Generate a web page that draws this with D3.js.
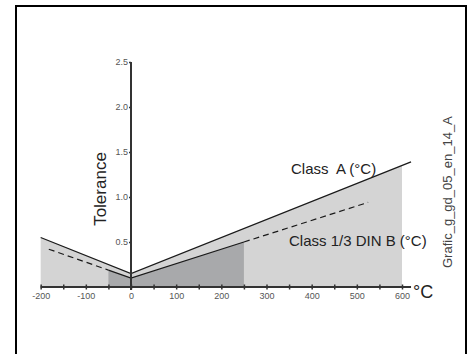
<!DOCTYPE html>
<html>
<head>
<meta charset="utf-8">
<script src="https://cdn.jsdelivr.net/npm/d3@7"></script>
<style>
  html, body { margin: 0; padding: 0; background: #fff; }
  svg { display: block; font-family: "Liberation Sans", Arial, Helvetica, sans-serif; }
</style>
</head>
<body>
<div id="chart"></div>
<script>
// tolerance curves (°C -> tolerance)
var classA = [[-200, 0.55], [0, 0.15], [620, 1.39]];
var classAFill = [[-200, 0], [-200, 0.55], [0, 0.15], [600, 1.35], [600, 0]];
var classBSolid = [[-50, 0.188], [0, 0.1], [250, 0.5]];
var classBDashLeft = [[-182, 0.42], [-50, 0.188]];
var classBDashRight = [[250, 0.5], [525, 0.94]];
var classBFill = [[-50, 0], [-50, 0.188], [0, 0.1], [250, 0.5], [250, 0]];
var xTicks = [-200, -150, -100, -50, 0, 50, 100, 150, 200, 250, 300, 350, 400, 450, 500, 550, 600];
var xLabels = [-200, -100, 0, 100, 200, 300, 400, 500, 600];
var yTicks = [0.5, 1.0, 1.5, 2.0, 2.5];

var W = 467, H = 354;
var svg = d3.select('#chart').append('svg')
  .attr('width', W)
  .attr('height', H);

// escalas
var x = d3.scaleLinear().domain([0, 600]).range([131, 402]);
var y = d3.scaleLinear().domain([0, 2.5]).range([287, 62]);

var line = d3.line().x(function(d) { return x(d[0]); }).y(function(d) { return y(d[1]); });

// areas
svg.append('path').attr('d', line(classAFill) + 'Z').attr('fill', '#d4d4d4');
svg.append('path').attr('d', line(classBFill) + 'Z').attr('fill', '#a8a9ab');

// curves
svg.append('path').attr('d', line(classA))
  .attr('fill', 'none').attr('stroke', '#1a1a1a').attr('stroke-width', 1.3);
svg.append('path').attr('d', line(classBSolid))
  .attr('fill', 'none').attr('stroke', '#1a1a1a').attr('stroke-width', 1.3);
[classBDashLeft, classBDashRight].forEach(function(seg) {
  svg.append('path').attr('d', line(seg))
    .attr('fill', 'none').attr('stroke', '#1a1a1a').attr('stroke-width', 1.2)
    .attr('stroke-dasharray', '6,4');
});

// x axis
var xAxis = d3.axisBottom(x)
  .tickValues(xTicks)
  .tickSize(2)
  .tickPadding(4)
  .tickFormat(function(d) { return xLabels.indexOf(d) >= 0 ? d : ''; });
var xAxisG = svg.append('g')
  .attr('class', 'x-axis')
  .attr('transform', 'translate(0,' + y(0) + ')')
  .call(xAxis);
xAxisG.select('.domain').remove();
xAxisG.selectAll('.tick line')
  .attr('y1', -2.5).attr('y2', 2.5)
  .attr('stroke', '#333').attr('stroke-width', 1.5);
xAxisG.selectAll('.tick text')
  .attr('font-size', 9).attr('fill', '#555')
  .attr('font-family', '"Liberation Sans", Arial, sans-serif');
xAxisG.append('line')
  .attr('x1', x(-200)).attr('x2', x(620))
  .attr('stroke', '#333').attr('stroke-width', 2);

// y axis
var yAxis = d3.axisLeft(y)
  .tickValues(yTicks)
  .tickSize(2)
  .tickPadding(1)
  .tickFormat(d3.format('.1f'));
var yAxisG = svg.append('g')
  .attr('class', 'y-axis')
  .attr('transform', 'translate(' + x(0) + ',0)')
  .call(yAxis);
yAxisG.select('.domain').remove();
yAxisG.selectAll('.tick line').attr('stroke', '#333').attr('stroke-width', 1.5);
yAxisG.selectAll('.tick text')
  .attr('font-size', 9).attr('fill', '#555')
  .attr('font-family', '"Liberation Sans", Arial, sans-serif');
yAxisG.append('line')
  .attr('y1', y(2.5)).attr('y2', y(0) + 3)
  .attr('stroke', '#333').attr('stroke-width', 2);

// textos
svg.append('text')
  .attr('transform', 'translate(106,189) rotate(-90)')
  .attr('text-anchor', 'middle')
  .attr('font-size', 17).attr('fill', '#222')
  .text('Tolerance');

svg.append('text')
  .attr('x', 291).attr('y', 174)
  .attr('font-size', 15).attr('fill', '#222')
  .attr('xml:space', 'preserve')
  .style('white-space', 'pre')
  .text('Class  A (°C)');

svg.append('text')
  .attr('x', 289).attr('y', 246)
  .attr('font-size', 15).attr('fill', '#222')
  .text('Class 1/3 DIN B (°C)');

svg.append('text')
  .attr('x', 413).attr('y', 298)
  .attr('font-size', 18).attr('fill', '#222')
  .text('°C');

svg.append('text')
  .attr('transform', 'translate(452,268) rotate(-90)')
  .attr('font-size', 13).attr('fill', '#444')
  .text('Grafic_g_gd_05_en_14_A');

svg.append('text')
  .attr('transform', 'translate(476,300) rotate(-90)')
  .attr('font-size', 13).attr('fill', '#444')
  .text('Grafic_g_gd_05_en_14_A');

// marco
svg.append('rect')
  .attr('x', 16).attr('y', 6)
  .attr('width', 450).attr('height', 400)
  .attr('fill', 'none').attr('stroke', '#000').attr('stroke-width', 2);
</script>
</body>
</html>
